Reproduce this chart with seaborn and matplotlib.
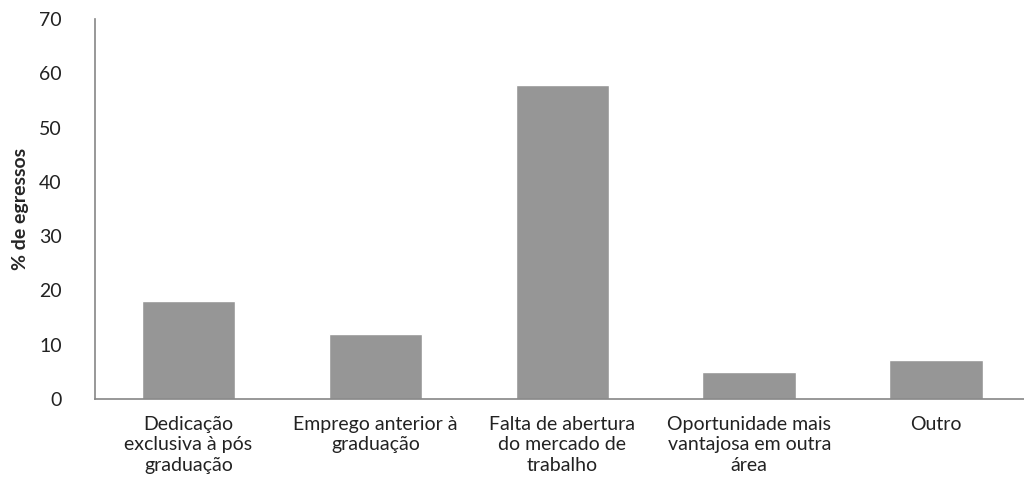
import matplotlib
matplotlib.use("Agg")
import matplotlib.pyplot as plt
import seaborn as sns
import pandas as pd

# Data
categories = [
    "Dedicação\nexclusiva à pós\ngraduação",
    "Emprego anterior à\ngraduação",
    "Falta de abertura\ndo mercado de\ntrabalho",
    "Oportunidade mais\nvantajosa em outra\nárea",
    "Outro",
]
percent = [18, 12, 57.8, 4.9, 7.1]

df = pd.DataFrame({"Motivo": categories, "Pct": percent})

sns.set_style("white")
plt.rcParams["font.family"] = ["Lato", "DejaVu Sans"]

fig = plt.figure(figsize=(10.24, 5.0), dpi=100)
ax = fig.add_axes([95 / 1024, 0.202, 1 - 95 / 1024, 0.76])

sns.barplot(x="Motivo", y="Pct", data=df, color="#969696", width=0.5,
            saturation=1, ax=ax)

ax.set_xlim(-0.5, 4.47)
ax.set_ylim(0, 70)
ax.set_yticks(range(0, 71, 10))
ax.set_xlabel("")
ax.set_ylabel("% de egressos", fontsize=14, fontweight="bold", labelpad=7)
ax.tick_params(axis="both", length=0, labelsize=14, colors="#222222")
ax.tick_params(axis="y", pad=24)
ax.tick_params(axis="x", pad=12)
for lbl in ax.get_xticklabels():
    lbl.set_linespacing(1.25)

for side in ["top", "right"]:
    ax.spines[side].set_visible(False)
for side in ["left", "bottom"]:
    ax.spines[side].set_color("#868686")
    ax.spines[side].set_linewidth(1.2)

fig.savefig("out.png", dpi=100)
